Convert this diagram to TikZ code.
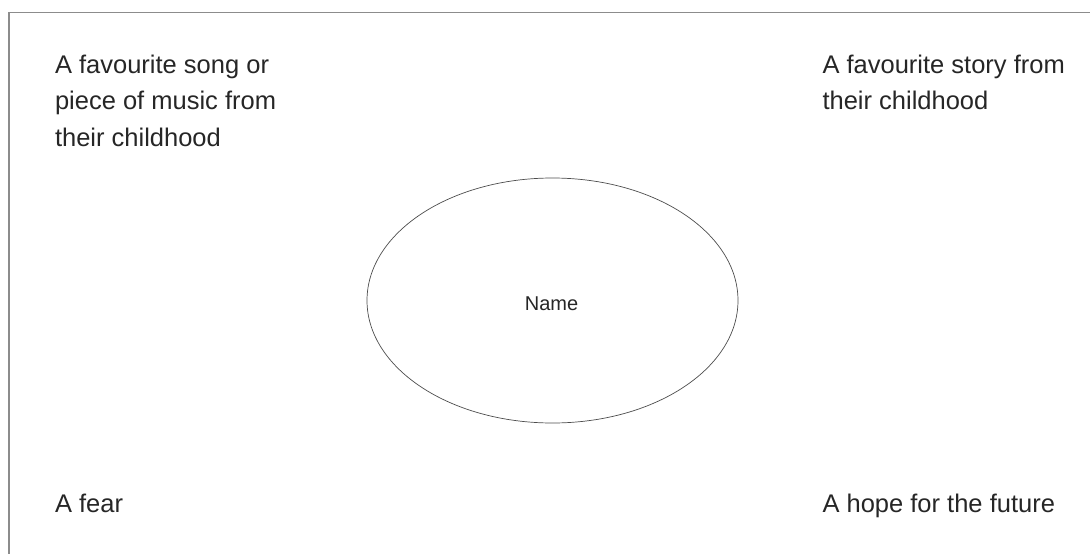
\documentclass[tikz,border=0pt]{standalone}
\usepackage{fontspec}
\setmainfont{Liberation Sans}
\begin{document}
\begin{tikzpicture}[x=1pt,y=-1pt,
  lbl/.style={inner sep=0pt,outer sep=0pt,anchor=north west,align=left,text=black!85,font=\fontsize{25.5}{36.6}\selectfont},
  frameline/.style={draw=black!45,line width=1.4pt},
  oval/.style={draw=black!70,line width=0.7pt,ellipse}]
\useasboundingbox (0,0) rectangle (1090,554);
\coordinate (fb) at (9,554);
\coordinate (fc) at (9,12.5);
\coordinate (fr) at (1090,12.5);
\draw[frameline] (fb) -- (fc) -- (fr);
\draw[draw=black!70,line width=0.7pt] (552.5,300.5) ellipse [x radius=185.5, y radius=122.5];
\node[inner sep=0pt,anchor=base,text=black!85,font=\fontsize{20}{24}\selectfont] (name) at (551.5,310.5) {Name};
\node[lbl] (tl) at (55,54.8) {A favourite song or\\piece of music from\\their childhood};
\node[lbl] (tr) at (822.5,54.8) {A favourite story from\\their childhood};
\node[lbl,anchor=base west] (bl) at (55,512) {A fear};
\node[lbl,anchor=base west] (br) at (822.5,512) {A hope for the future};
\end{tikzpicture}
\end{document}
